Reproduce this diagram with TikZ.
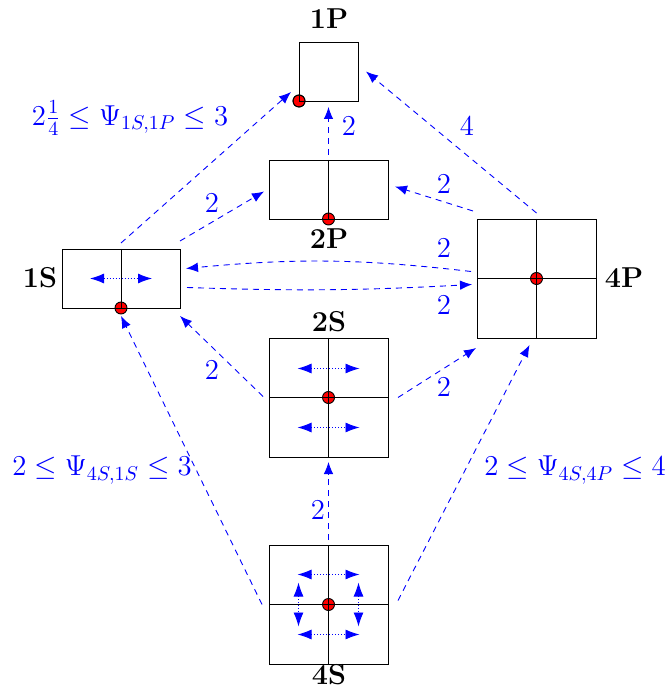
\documentclass[tikz,border=0pt]{standalone}
\usetikzlibrary{arrows.meta,backgrounds}
\begin{document}
\begin{tikzpicture}[x=0.5pt,y=-0.5pt,
  cell/.style={draw=black,line width=0.45pt,inner sep=0pt,outer sep=0pt},
  grid/.style={draw=black,line width=0.45pt},
  conn/.style={draw=blue,line width=0.45pt,dash pattern=on 3pt off 2.5pt,-{Latex[length=6pt,width=4.8pt]}},
  mv/.style={draw=blue,line width=0.45pt,dash pattern=on 0.5pt off 1pt,{Latex[length=7pt,width=5pt]}-{Latex[length=7pt,width=5pt]}},
  dot/.style={fill=red,draw=black,line width=0.45pt},
  lab/.style={font=\Large\bfseries,inner sep=1pt},
  num/.style={text=blue,font=\Large,inner sep=1pt}]
\useasboundingbox (0,0) rectangle (664,688);
% boxes
\node[cell,minimum width=29.5pt,minimum height=29.5pt] (1P) at (328.5,71.5) {};
\node[cell,minimum width=59.5pt,minimum height=29.5pt] (2P) at (328.5,189.5) {};
\node[cell,minimum width=59pt,minimum height=29.5pt] (1S) at (121,278.5) {};
\node[cell,minimum width=59.5pt,minimum height=59.5pt] (4P) at (536.5,278.5) {};
\node[cell,minimum width=59.5pt,minimum height=59.5pt] (2S) at (328.5,397.5) {};
\node[cell,minimum width=59.5pt,minimum height=59.5pt] (4S) at (328.5,604.5) {};
% inner lines
\draw[grid] (2P.north) -- (2P.south);
\draw[grid] (1S.north) -- (1S.south);
\draw[grid] (4P.north) -- (4P.south) (4P.west) -- (4P.east);
\draw[grid] (2S.north) -- (2S.south) (2S.west) -- (2S.east);
\draw[grid] (4S.north) -- (4S.south) (4S.west) -- (4S.east);
% dots
\begin{pgfonlayer}{background}
\fill[dot] (1P.south west) circle (3pt);
\fill[dot] (2P.south) circle (3pt);
\fill[dot] (1S.south) circle (3pt);
\fill[dot] (4P.center) circle (3pt);
\fill[dot] (2S.center) circle (3pt);
\fill[dot] (4S.center) circle (3pt);
\end{pgfonlayer}
\draw[dot,fill=none] (1P.south west) circle (3pt);
% labels
\node[lab] (l1P) at (329,19) {1P};
\node[lab] (l2P) at (329,239) {2P};
\node[lab] (l1S) at (40,278) {1S};
\node[lab] (l4P) at (624,278) {4P};
\node[lab] (l2S) at (329,322) {2S};
\node[lab] (l4S) at (329,675) {4S};
% movement arrows
\draw[mv] ([shift={(-31,0)}]1S.center) -- ([shift={(31,0)}]1S.center);
\draw[mv] ([shift={(-31,-29)}]2S.center) -- ([shift={(31,-29)}]2S.center);
\draw[mv] ([shift={(-31,30)}]2S.center) -- ([shift={(31,30)}]2S.center);
\draw[mv] ([shift={(-31,-30)}]4S.center) -- ([shift={(31,-30)}]4S.center);
\draw[mv] ([shift={(-31,30)}]4S.center) -- ([shift={(31,30)}]4S.center);
\draw[mv] ([shift={(-30,-22)}]4S.center) -- ([shift={(-30,22)}]4S.center);
\draw[mv] ([shift={(30,-22)}]4S.center) -- ([shift={(30,22)}]4S.center);
% connectors
\draw[conn] ([shift={(0,-6)}]1S.north) -- ([shift={(-8,-9)}]1P.south west);
\draw[conn] ([shift={(0,-5)}]2P.north) -- ([shift={(0,6)}]1P.south);
\draw[conn] ([shift={(0,-6)}]4P.north) -- ([shift={(8,0)}]1P.east);
\draw[conn] ([shift={(0,-8)}]1S.north east) -- ([shift={(-5,2)}]2P.west);
\draw[conn] ([shift={(-4,-8)}]4P.north west) -- ([shift={(7,-3)}]2P.east);
\draw[conn] ([shift={(-6,-7)}]4P.west) to[bend right=6] ([shift={(6,-10)}]1S.east);
\draw[conn] ([shift={(7,9)}]1S.east) to[bend right=2.5] ([shift={(-5,6)}]4P.west);
\draw[conn] ([shift={(-6,-1)}]2S.west) -- ([shift={(0,8)}]1S.south east);
\draw[conn] ([shift={(10,0)}]2S.east) -- ([shift={(-1,10)}]4P.south west);
\draw[conn] ([shift={(-7,0)}]4S.west) -- ([shift={(0,8)}]1S.south);
\draw[conn] ([shift={(0,-5)}]4S.north) -- ([shift={(0,5)}]2S.south);
\draw[conn] ([shift={(10,-4)}]4S.east) -- ([shift={(-7,7)}]4P.south);
% connector labels
\node[num] (n1) at (130,118) {$2\frac{1}{4}\le\Psi_{1S,1P}\le 3$};
\node[num] (n2) at (349,126) {$2$};
\node[num] (n3) at (467,126) {$4$};
\node[num] (n4) at (212,203) {$2$};
\node[num] (n5) at (444,184) {$2$};
\node[num] (n6) at (444,248) {$2$};
\node[num] (n7) at (444,305) {$2$};
\node[num] (n8) at (212,370) {$2$};
\node[num] (n9) at (444,387) {$2$};
\node[num] (n10) at (102,470) {$2\le\Psi_{4S,1S}\le 3$};
\node[num] (n11) at (318,510) {$2$};
\node[num] (n12) at (575,470) {$2\le\Psi_{4S,4P}\le 4$};
\end{tikzpicture}
\end{document}
